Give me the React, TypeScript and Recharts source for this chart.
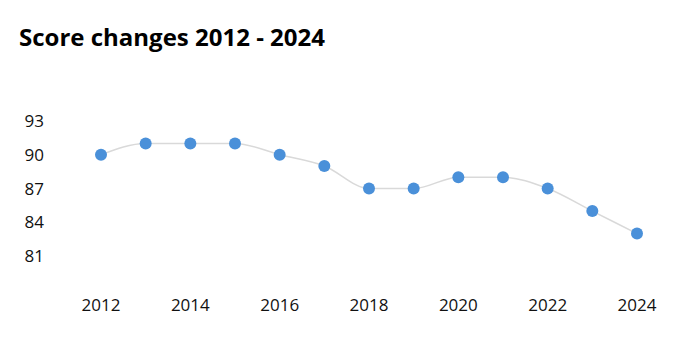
import { Line, LineChart, XAxis, YAxis } from 'recharts'

const years = [2012, 2013, 2014, 2015, 2016, 2017, 2018, 2019, 2020, 2021, 2022, 2023, 2024]
const scores = [90, 91, 91, 91, 90, 89, 87, 87, 88, 88, 87, 85, 83]
const xTicks = [2012, 2014, 2016, 2018, 2020, 2022, 2024]
const yTicks = [81, 84, 87, 90, 93]

const data = years.map((year, i) => ({ year, score: scores[i] }))

const font = '"Open Sans", sans-serif'

export default function App() {
  return (
    <div
      style={{
        position: 'absolute',
        left: 0,
        top: 0,
        width: 679,
        height: 360,
        background: '#fff',
        fontFamily: font,
      }}
    >
      <div
        style={{
          position: 'absolute',
          left: 19,
          top: 21.5,
          fontSize: 24,
          fontWeight: 700,
          color: '#000',
          lineHeight: '30px',
          whiteSpace: 'nowrap',
        }}
      >
        Score changes 2012 - 2024
      </div>
      <LineChart
        width={679}
        height={360}
        data={data}
        margin={{ top: 87, right: 0, left: 0, bottom: 0 }}
      >
        <XAxis
          dataKey="year"
          type="number"
          domain={[2012, 2024]}
          ticks={xTicks}
          padding={{ left: 51, right: 42 }}
          axisLine={false}
          tickLine={false}
          tickSize={0}
          tickMargin={9}
          height={70}
          tick={{ fontSize: 17, fill: '#111', fontFamily: font }}
        />
        <YAxis
          type="number"
          domain={[78, 96]}
          ticks={yTicks}
          axisLine={false}
          tickLine={false}
          tickSize={0}
          tickMargin={6}
          width={50}
          tick={{ fontSize: 17, fill: '#111', fontFamily: font }}
        />
        <Line
          type="monotone"
          dataKey="score"
          stroke="#d9d9d9"
          strokeWidth={1.5}
          dot={{ r: 6, fill: '#4a90d9', stroke: 'none' }}
          activeDot={false}
          isAnimationActive={false}
        />
      </LineChart>
    </div>
  )
}
